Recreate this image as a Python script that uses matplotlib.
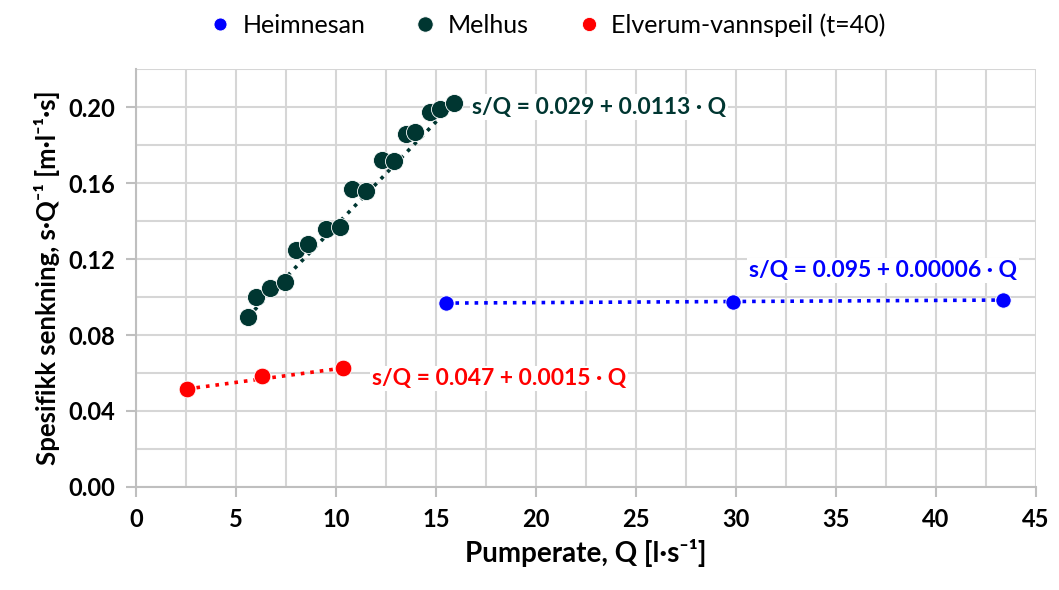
import matplotlib.pyplot as plt
import numpy as np
from matplotlib.ticker import MultipleLocator

plt.rcParams['font.family'] = ['Lato', 'DejaVu Sans']

### Data

heim_q = [15.5, 29.85, 43.35]
heim_sq = [0.0968, 0.0974, 0.0984]

melhus_q = [5.6, 6.0, 6.7, 7.45, 8.0, 8.6, 9.5, 10.2, 10.8, 11.5,
            12.3, 12.9, 13.5, 13.95, 14.7, 15.2, 15.9]
melhus_sq = [0.0896, 0.0998, 0.1046, 0.108, 0.1247, 0.128, 0.136, 0.137, 0.1567, 0.156,
             0.172, 0.1715, 0.186, 0.187, 0.1975, 0.199, 0.202]

elv_q = [2.55, 6.3, 10.35]
elv_sq = [0.0516, 0.0584, 0.0626]

labels = ['Heimnesan', 'Melhus', 'Elverum-vannspeil (t=40)']
equations = ['s/Q = 0.095 + 0.00006 · Q',
             's/Q = 0.029 + 0.0113 · Q',
             's/Q = 0.047 + 0.0015 · Q']
colors = ['#0000FF', '#003631', '#FF0000']

### Plot

fig = plt.figure(figsize=(10.59, 5.90), dpi=100)
ax = fig.add_axes([0.1284, 0.1746, 0.978 - 0.1284, 0.883 - 0.1746])

series = [(heim_q, heim_sq, 11), (melhus_q, melhus_sq, 13), (elv_q, elv_sq, 12)]
for i, (q, sq, ms) in enumerate(series):
    # dotted trendline between the outer points
    ax.plot([q[0], q[-1]], [sq[0], sq[-1]], ':', color=colors[i], lw=2.6, zorder=3)
    ax.plot(q, sq, 'o', color=colors[i], markersize=ms, markeredgecolor='white',
            markeredgewidth=0.6, label=labels[i], zorder=4, linestyle='none')

# Trendline equations
box = dict(facecolor='white', edgecolor='none', pad=1.5)
ax.text(37.35, 0.114, equations[0], color=colors[0], fontsize=16.5, fontweight='bold',
        ha='center', va='center', bbox=box, zorder=5)
ax.text(16.8, 0.200, equations[1], color=colors[1], fontsize=16.5, fontweight='bold',
        ha='left', va='center', bbox=box, zorder=5)
ax.text(11.8, 0.057, equations[2], color=colors[2], fontsize=16.5, fontweight='bold',
        ha='left', va='center', bbox=box, zorder=5)

ax.set_xlim(0, 45)
ax.set_ylim(0, 0.22)
ax.xaxis.set_major_locator(MultipleLocator(5))
ax.xaxis.set_minor_locator(MultipleLocator(2.5))
ax.set_yticks(np.arange(0, 0.201, 0.04))
ax.set_yticklabels([f'{v:.2f}' for v in np.arange(0, 0.201, 0.04)])
ax.yaxis.set_minor_locator(MultipleLocator(0.02))

ax.grid(True, which='both', color='#D6D6D6', lw=1.5, zorder=0)
ax.set_axisbelow(True)
for side in ['top', 'right']:
    ax.spines[side].set_visible(False)
for side in ['left', 'bottom']:
    ax.spines[side].set_color('#BFBFBF')
    ax.spines[side].set_linewidth(1.5)
ax.tick_params(which='major', direction='out', length=7, width=1.5, color='#BFBFBF',
               labelsize=17, pad=8)
ax.tick_params(which='minor', length=0)
for lab in ax.get_xticklabels() + ax.get_yticklabels():
    lab.set_fontweight('bold')

ax.set_xlabel('Pumperate, Q [l·s⁻¹]', fontsize=20, fontweight='bold', labelpad=6)
ax.set_ylabel('Spesifikk senkning, s·Q⁻¹ [m·l⁻¹·s]', fontsize=18.5, fontweight='bold', labelpad=6)

fig.legend(loc='center', bbox_to_anchor=(0.515, 0.958), ncol=3, frameon=False,
           fontsize=18, markerscale=0.85, handletextpad=0.3, columnspacing=1.8,
           handlelength=1.2)

fig.savefig('out.png', dpi=100)
